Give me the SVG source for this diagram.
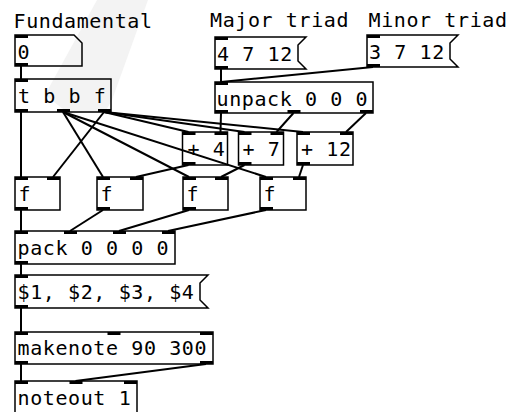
<svg xmlns="http://www.w3.org/2000/svg" width="513" height="412" viewBox="0 0 513 412">
<style>
.box{fill:none;stroke:#000;stroke-width:1.5}
.io{fill:#000}
.c{stroke:#000;stroke-width:2;fill:none}
text{font-family:"DejaVu Sans Mono","Liberation Mono",monospace;font-size:20px;letter-spacing:0.6px;fill:#000}
</style>
<rect width="513" height="412" fill="#fff"/>
<polygon points="97,0 148,0 112,100 105,112 67,112 45,95" fill="#f3f3f3"/>
<g id="labels">
<text x="13.5" y="28">Fundamental</text>
<text x="210" y="27">Major triad</text>
<text x="368.5" y="27">Minor triad</text>
</g>
<g id="connectors" class="c">
<line x1="21" y1="66" x2="21" y2="79"/>
<line x1="21" y1="112" x2="21" y2="177"/>
<line x1="63" y1="112" x2="103" y2="177"/>
<line x1="63" y1="112" x2="189" y2="177"/>
<line x1="63" y1="112" x2="266" y2="177"/>
<line x1="104" y1="112" x2="53" y2="177"/>
<line x1="104" y1="112" x2="188.5" y2="132"/>
<line x1="104" y1="112" x2="244.5" y2="132"/>
<line x1="104" y1="112" x2="303" y2="132"/>
<line x1="221" y1="69" x2="221" y2="82"/>
<line x1="373" y1="67" x2="221" y2="82"/>
<line x1="221" y1="113" x2="220.5" y2="132"/>
<line x1="293.5" y1="113" x2="276.5" y2="132"/>
<line x1="366" y1="113" x2="346" y2="132"/>
<line x1="188.5" y1="165" x2="136" y2="177"/>
<line x1="244.5" y1="165" x2="221" y2="177"/>
<line x1="303" y1="165" x2="299" y2="177"/>
<line x1="21" y1="210" x2="21" y2="231"/>
<line x1="103" y1="210" x2="70" y2="231"/>
<line x1="189" y1="210" x2="119" y2="231"/>
<line x1="266" y1="210" x2="168" y2="231"/>
<line x1="21" y1="264" x2="21" y2="275"/>
<line x1="21" y1="308" x2="21" y2="332"/>
<line x1="21" y1="364" x2="21" y2="381"/>
<line x1="206" y1="364" x2="75.5" y2="381"/>
</g>
<g id="num0">
<path class="box" d="M15,35 H74 L82,43 V66 H15 Z"/>
<rect class="io" x="15" y="35" width="13" height="3"/>
<rect class="io" x="15" y="63" width="13" height="3"/>
<text x="17.5" y="59">0</text>
</g>
<g id="trigger">
<rect class="box" x="15" y="79" width="96" height="33"/>
<rect class="io" x="15" y="79" width="13" height="3"/>
<rect class="io" x="15" y="109" width="13" height="3"/>
<rect class="io" x="57" y="109" width="13" height="3"/>
<rect class="io" x="98" y="109" width="13" height="3"/>
<text x="18" y="103">t b b f</text>
</g>
<g id="msgMajor">
<path class="box" d="M215,37 H306 L298,45 V61 L306,69 H215 Z"/>
<rect class="io" x="215" y="37" width="13" height="3"/>
<rect class="io" x="215" y="66" width="13" height="3"/>
<text x="217" y="61">4 7 12</text>
</g>
<g id="msgMinor">
<path class="box" d="M367,35 H458 L450,43 V59 L458,67 H367 Z"/>
<rect class="io" x="367" y="35" width="13" height="3"/>
<rect class="io" x="367" y="64" width="13" height="3"/>
<text x="369" y="59">3 7 12</text>
</g>
<g id="unpack">
<rect class="box" x="215" y="82" width="158" height="31"/>
<rect class="io" x="215" y="82" width="13" height="3"/>
<rect class="io" x="215" y="110" width="13" height="3"/>
<rect class="io" x="287.5" y="110" width="13" height="3"/>
<rect class="io" x="360" y="110" width="13" height="3"/>
<text x="216.5" y="106">unpack 0 0 0</text>
</g>
<g id="plus4">
<rect class="box" x="182.5" y="132" width="45" height="33"/>
<rect class="io" x="182.5" y="132" width="13" height="3"/>
<rect class="io" x="214.5" y="132" width="13" height="3"/>
<rect class="io" x="182.5" y="162" width="13" height="3"/>
<text x="187.5" y="156">+ 4</text>
</g>
<g id="plus7">
<rect class="box" x="238.5" y="132" width="45" height="33"/>
<rect class="io" x="238.5" y="132" width="13" height="3"/>
<rect class="io" x="270.5" y="132" width="13" height="3"/>
<rect class="io" x="238.5" y="162" width="13" height="3"/>
<text x="242.5" y="156">+ 7</text>
</g>
<g id="plus12">
<rect class="box" x="297" y="132" width="56" height="33"/>
<rect class="io" x="297" y="132" width="13" height="3"/>
<rect class="io" x="340" y="132" width="13" height="3"/>
<rect class="io" x="297" y="162" width="13" height="3"/>
<text x="301" y="156">+ 12</text>
</g>
<g id="f1">
<rect class="box" x="15" y="177" width="45" height="33"/>
<rect class="io" x="15" y="177" width="13" height="3"/>
<rect class="io" x="47" y="177" width="13" height="3"/>
<rect class="io" x="15" y="207" width="13" height="3"/>
<text x="18.5" y="201">f</text>
</g>
<g id="f2">
<rect class="box" x="97" y="177" width="46" height="33"/>
<rect class="io" x="97" y="177" width="13" height="3"/>
<rect class="io" x="130" y="177" width="13" height="3"/>
<rect class="io" x="97" y="207" width="13" height="3"/>
<text x="100.5" y="201">f</text>
</g>
<g id="f3">
<rect class="box" x="183" y="177" width="45" height="33"/>
<rect class="io" x="183" y="177" width="13" height="3"/>
<rect class="io" x="215" y="177" width="13" height="3"/>
<rect class="io" x="183" y="207" width="13" height="3"/>
<text x="186.5" y="201">f</text>
</g>
<g id="f4">
<rect class="box" x="260" y="177" width="46" height="33"/>
<rect class="io" x="260" y="177" width="13" height="3"/>
<rect class="io" x="293" y="177" width="13" height="3"/>
<rect class="io" x="260" y="207" width="13" height="3"/>
<text x="263.5" y="201">f</text>
</g>
<g id="pack">
<rect class="box" x="15" y="231" width="160" height="33"/>
<rect class="io" x="15" y="231" width="13" height="3"/>
<rect class="io" x="64" y="231" width="13" height="3"/>
<rect class="io" x="113" y="231" width="13" height="3"/>
<rect class="io" x="162" y="231" width="13" height="3"/>
<rect class="io" x="15" y="261" width="13" height="3"/>
<text x="17.5" y="255">pack 0 0 0 0</text>
</g>
<g id="msgDollar">
<path class="box" d="M15,275 H208 L200,283 V300 L208,308 H15 Z"/>
<rect class="io" x="15" y="275" width="13" height="3"/>
<rect class="io" x="15" y="305" width="13" height="3"/>
<text x="17.5" y="299">$1, $2, $3, $4</text>
</g>
<g id="makenote">
<rect class="box" x="15" y="332" width="198" height="32"/>
<rect class="io" x="15" y="332" width="13" height="3"/>
<rect class="io" x="107.5" y="332" width="13" height="3"/>
<rect class="io" x="200" y="332" width="13" height="3"/>
<rect class="io" x="15" y="361" width="13" height="3"/>
<rect class="io" x="200" y="361" width="13" height="3"/>
<text x="17.5" y="355">makenote 90 300</text>
</g>
<g id="noteout">
<rect class="box" x="15" y="381" width="122" height="34"/>
<rect class="io" x="15" y="381" width="13" height="3"/>
<rect class="io" x="69.5" y="381" width="13" height="3"/>
<rect class="io" x="124" y="381" width="13" height="3"/>
<text x="17.5" y="405">noteout 1</text>
</g>
</svg>
